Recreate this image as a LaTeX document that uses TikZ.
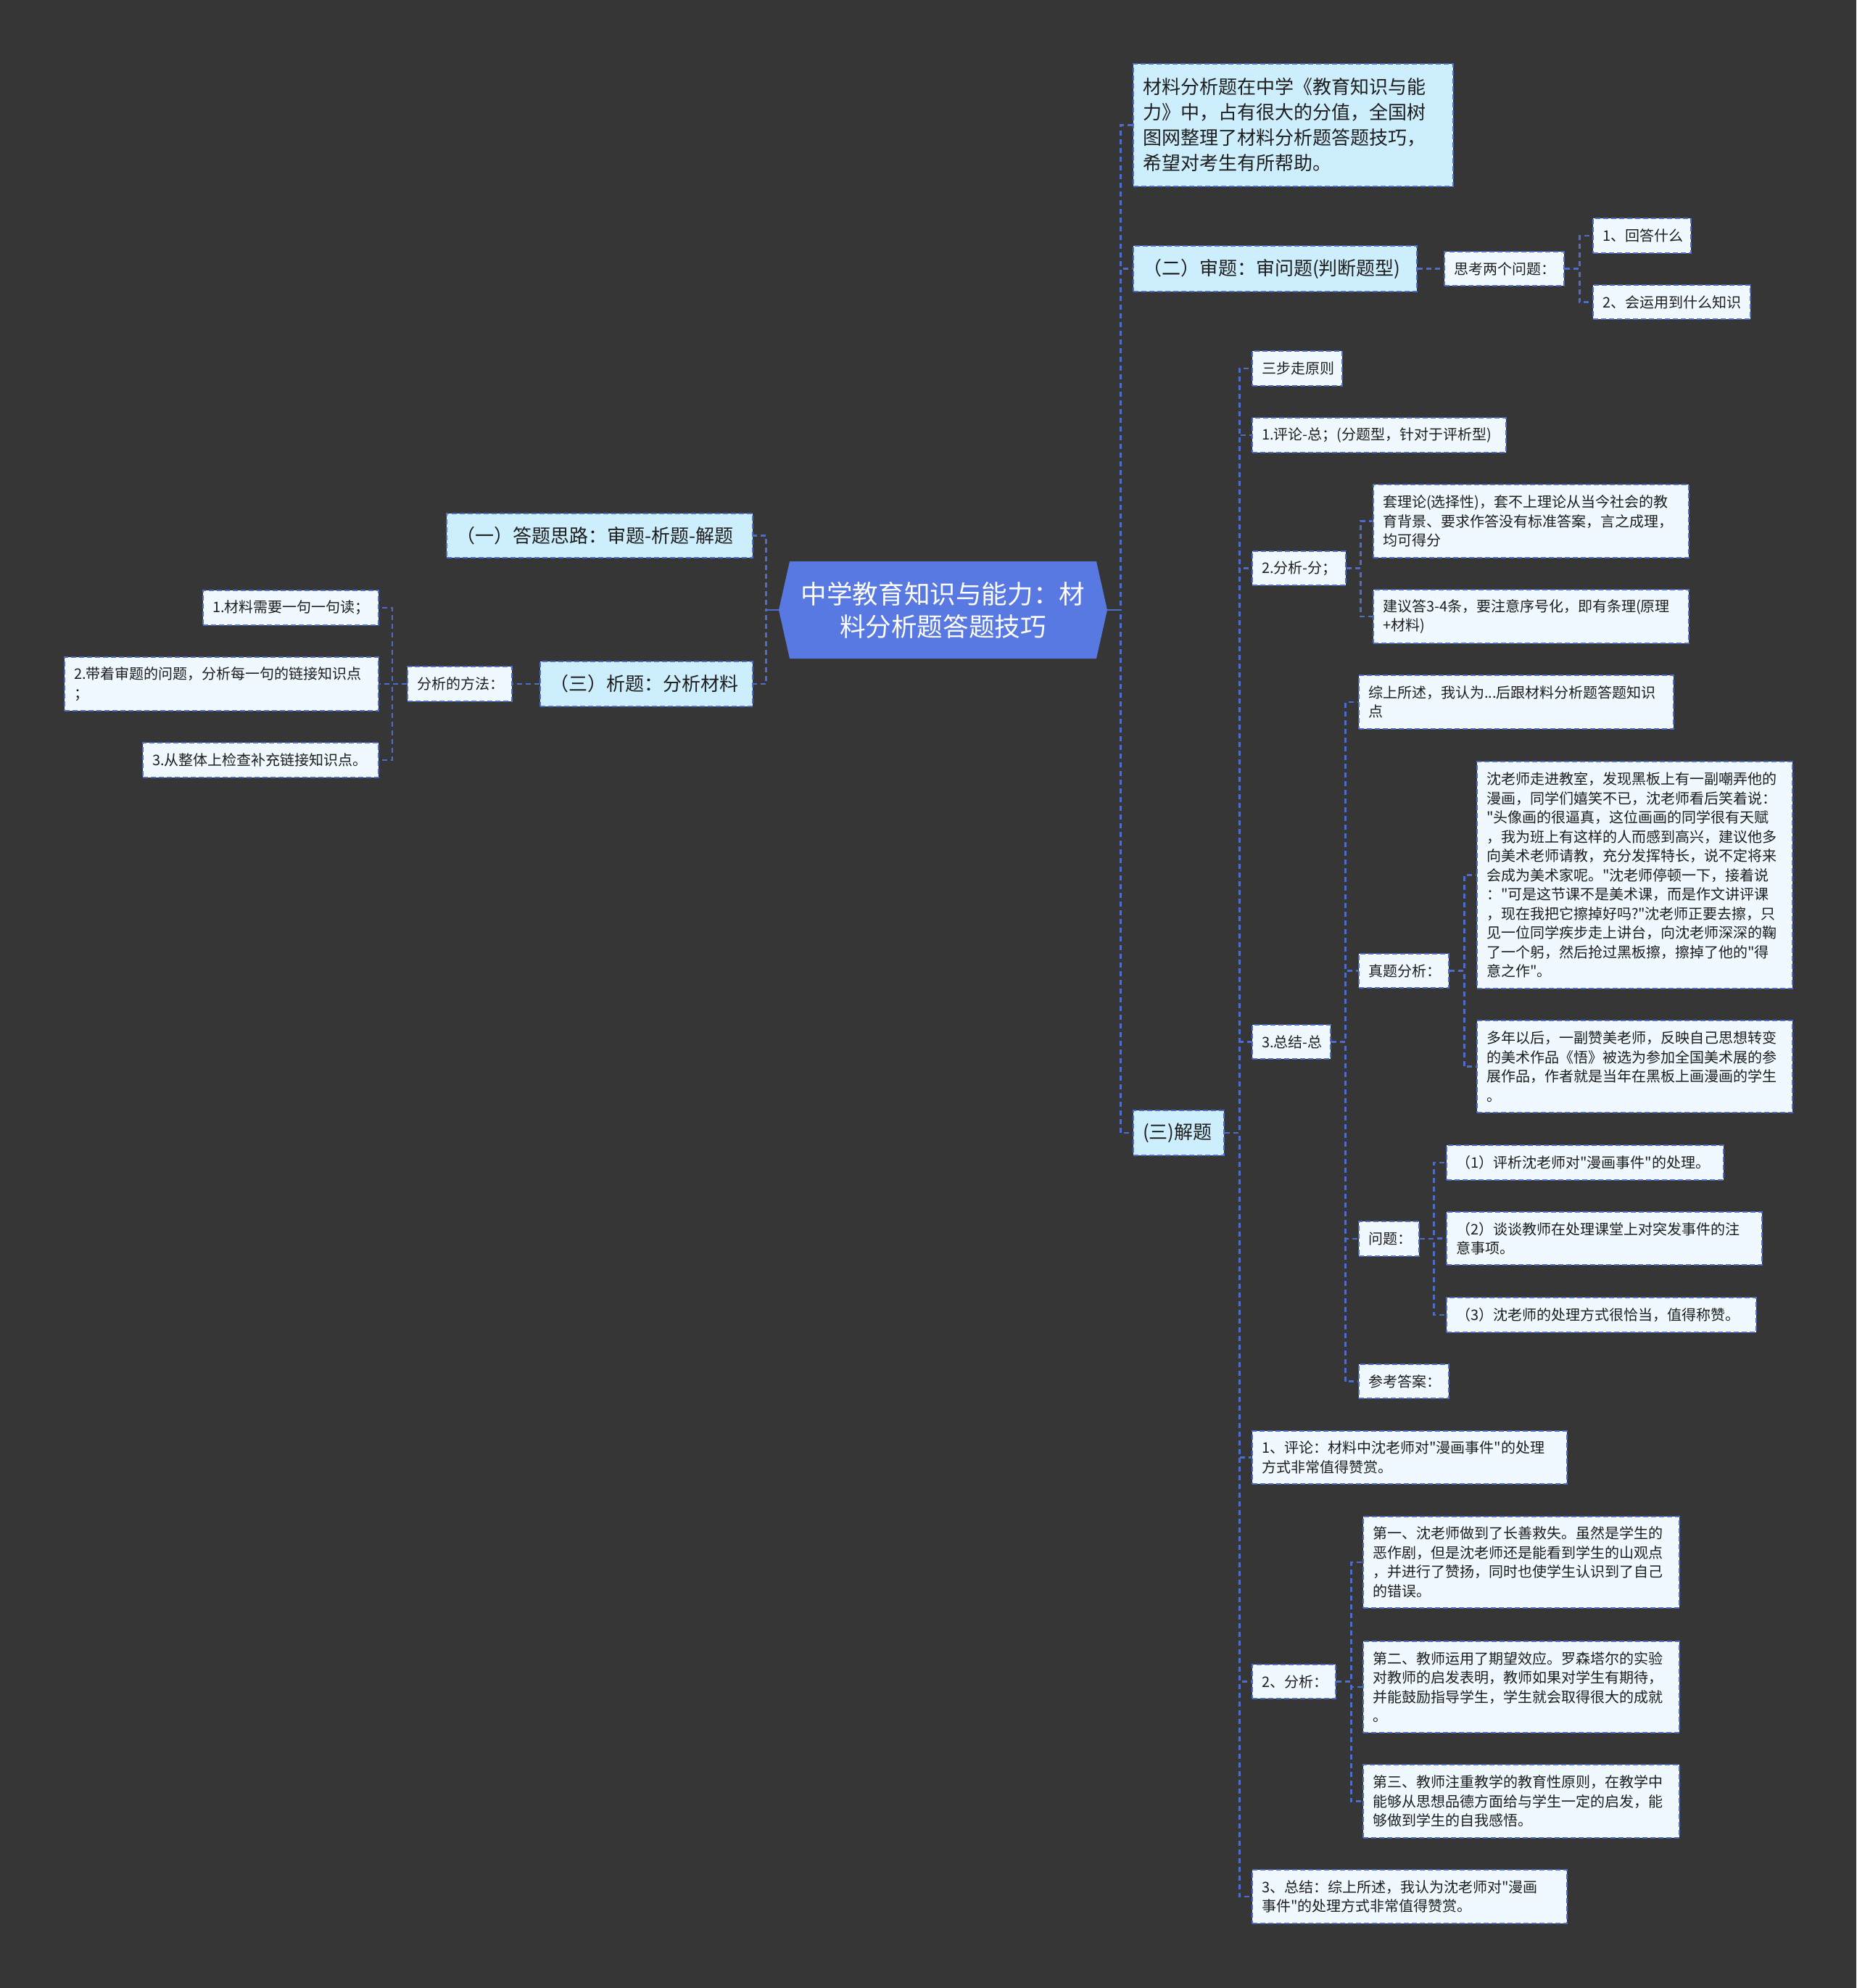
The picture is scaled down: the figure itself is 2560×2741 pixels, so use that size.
\documentclass[tikz,border=0pt]{standalone}
\usepackage{fontspec}
\newfontfamily\cjk{Noto Sans CJK SC}
\definecolor{bgc}{HTML}{363636}
\definecolor{rootc}{HTML}{5878E2}
\definecolor{lvc}{HTML}{CDEEFD}
\definecolor{leafc}{HTML}{EFF9FF}
\definecolor{linec}{HTML}{4E6CC9}
\definecolor{txtc}{HTML}{1E1E1E}
\tikzset{
  boxbase/.style={draw=linec, line width=1.2pt, dash pattern=on 3.5pt off 2pt,
    inner xsep=6.5pt, inner ysep=0pt, align=left, text=txtc, font=\cjk,
    execute at begin node={\exhyphenpenalty=10000 \hyphenpenalty=10000 }},
  lvbox/.style={boxbase, fill=lvc, font=\cjk\fontsize{13}{17.5}\selectfont},
  leafbox/.style={boxbase, fill=leafc, font=\cjk\fontsize{10}{13.25}\selectfont},
  conn/.style={draw=linec, line width=1.3pt, dash pattern=on 3.5pt off 2.5pt},
  stub/.style={draw=linec, line width=1.3pt},
}
\newcommand\bx[7]{%
  \pgfmathsetmacro\bxcx{(#2+#4)/2}%
  \pgfmathsetmacro\bxcy{(#3+#5)/2}%
  \pgfmathsetmacro\bxw{(#4-#2)*0.5}%
  \pgfmathsetmacro\bxh{(#5-#3)*0.5}%
  \pgfmathsetmacro\bxtw{\bxw-13}%
  \node[#6, minimum width=\bxw pt, minimum height=\bxh pt, text width=\bxtw pt] (#1) at (\bxcx,\bxcy) {#7};%
}
\begin{document}
\begin{tikzpicture}[x=0.5pt,y=-0.5pt]
\fill[bgc] (0,0) rectangle (2560,2741);
\useasboundingbox (0,0) rectangle (2560,2741);

% root
\fill[rootc] (1089,774) -- (1512,774) -- (1527,841) -- (1512,908) -- (1089,908) -- (1074,841) -- cycle;
\node[font=\cjk\fontsize{17.8}{22.5}\selectfont, text=white, align=center,
  minimum width=226.5pt, minimum height=67pt, inner sep=0pt] (root) at (1300.5,841)
  {中学教育知识与能力：材\\料分析题答题技巧};

% left branch
\bx{c1}{616}{708}{1038}{769}{lvbox}{（一）答题思路：审题-析题-解题}
\bx{c3}{745}{912}{1038}{974}{lvbox}{（三）析题：分析材料}
\bx{m}{562}{919}{706}{967}{leafbox}{分析的方法：}
\bx{l1}{280}{814}{522}{862}{leafbox}{1.材料需要一句一句读；}
\bx{l2}{89}{906}{522}{980}{leafbox}{2.带着审题的问题，分析每一句的链接知识点\\；}
\bx{l3}{197}{1024}{522}{1072}{leafbox}{3.从整体上检查补充链接知识点。}

% right top
\bx{intro}{1563}{88}{2004}{257}{lvbox}{材料分析题在中学《教育知识与能\\力》中，占有很大的分值，全国树\\图网整理了材料分析题答题技巧，\\希望对考生有所帮助。}
\bx{t2}{1563}{339}{1954}{402}{lvbox}{（二）审题：审问题(判断题型)}
\bx{q}{1992}{347}{2157}{394}{leafbox}{思考两个问题：}
\bx{q1}{2197}{301}{2332}{349}{leafbox}{1、回答什么}
\bx{q2}{2197}{393}{2414}{440}{leafbox}{2、会运用到什么知识}
\bx{t3}{1563}{1531}{1688}{1593}{lvbox}{(三)解题}

% (三)解题 children
\bx{s1}{1727}{484}{1851}{532}{leafbox}{三步走原则}
\bx{s2}{1727}{576}{2077}{624}{leafbox}{1.评论-总；(分题型，针对于评析型)}
\bx{s3}{1727}{760}{1856}{807}{leafbox}{\mbox{2.分析-分；}}
\bx{s3a}{1894}{668}{2329}{769}{leafbox}{套理论(选择性)，套不上理论从当今社会的教\\育背景、要求作答没有标准答案，言之成理，\\均可得分}
\bx{s3b}{1894}{813}{2329}{887}{leafbox}{建议答3-4条，要注意序号化，即有条理(原理\\+材料)}
\bx{s4}{1727}{1413}{1835}{1460}{leafbox}{\mbox{3.总结-总}}
\bx{s4a}{1874}{931}{2308}{1005}{leafbox}{综上所述，我认为...后跟材料分析题答题知识\\点}
\bx{zt}{1874}{1315}{1998}{1362}{leafbox}{真题分析：}
\bx{zta}{2037}{1050}{2472}{1363}{leafbox}{沈老师走进教室，发现黑板上有一副嘲弄他的\\漫画，同学们嬉笑不已，沈老师看后笑着说：\\"头像画的很逼真，这位画画的同学很有天赋\\，我为班上有这样的人而感到高兴，建议他多\\向美术老师请教，充分发挥特长，说不定将来\\会成为美术家呢。"沈老师停顿一下，接着说\\："可是这节课不是美术课，而是作文讲评课\\，现在我把它擦掉好吗?"沈老师正要去擦，只\\见一位同学疾步走上讲台，向沈老师深深的鞠\\了一个躬，然后抢过黑板擦，擦掉了他的"得\\意之作"。}
\bx{ztb}{2037}{1407}{2472}{1534}{leafbox}{多年以后，一副赞美老师，反映自己思想转变\\的美术作品《悟》被选为参加全国美术展的参\\展作品，作者就是当年在黑板上画漫画的学生\\。}
\bx{wt}{1874}{1684}{1957}{1732}{leafbox}{问题：}
\bx{w1}{1995}{1579}{2377}{1627}{leafbox}{（1）评析沈老师对"漫画事件"的处理。}
\bx{w2}{1995}{1671}{2430}{1744}{leafbox}{（2）谈谈教师在处理课堂上对突发事件的注\\意事项。}
\bx{w3}{1995}{1789}{2422}{1837}{leafbox}{（3）沈老师的处理方式很恰当，值得称赞。}
\bx{ck}{1874}{1881}{1998}{1928}{leafbox}{参考答案：}
\bx{s5}{1727}{1973}{2161}{2046}{leafbox}{1、评论：材料中沈老师对"漫画事件"的处理\\方式非常值得赞赏。}
\bx{s6}{1727}{2295}{1842}{2342}{leafbox}{2、分析：}
\bx{f1}{1880}{2091}{2316}{2217}{leafbox}{第一、沈老师做到了长善救失。虽然是学生的\\恶作剧，但是沈老师还是能看到学生的山观点\\，并进行了赞扬，同时也使学生认识到了自己\\的错误。}
\bx{f2}{1880}{2263}{2316}{2389}{leafbox}{第二、教师运用了期望效应。罗森塔尔的实验\\对教师的启发表明，教师如果对学生有期待，\\并能鼓励指导学生，学生就会取得很大的成就\\。}
\bx{f3}{1880}{2433}{2316}{2534}{leafbox}{第三、教师注重教学的教育性原则，在教学中\\能够从思想品德方面给与学生一定的启发，能\\够做到学生的自我感悟。}
\bx{s7}{1727}{2578}{2161}{2652}{leafbox}{3、总结：综上所述，我认为沈老师对"漫画\\事件"的处理方式非常值得赞赏。}

% connectors: left
\draw[conn] (root.west) -- ++(-17,0) |- (c1.east);
\draw[conn] (root.west) -- ++(-17,0) |- (c3.east);
\draw[stub] (root.west) -- ++(-17,0);
\draw[conn] (c3.west) -- (m.east);
\foreach \n in {l1,l2,l3} \draw[conn] (m.west) -- ++(-20,0) |- (\n.east);

% connectors: right
\foreach \n in {intro,t2,t3} \draw[conn] (root.east) -- ++(18,0) |- (\n.west);
\draw[stub] (root.east) -- ++(18,0);
\draw[conn] (t2.east) -- (q.west);
\foreach \n in {q1,q2} \draw[conn] (q.east) -- ++(20,0) |- (\n.west);
\foreach \n in {s1,s2,s3,s4,s5,s6,s7} \draw[conn] (t3.east) -- ++(20,0) |- (\n.west);
\foreach \n in {s3a,s3b} \draw[conn] (s3.east) -- ++(19,0) |- (\n.west);
\foreach \n in {s4a,zt,wt,ck} \draw[conn] (s4.east) -- ++(19,0) |- (\n.west);
\foreach \n in {zta,ztb} \draw[conn] (zt.east) -- ++(20,0) |- (\n.west);
\foreach \n in {w1,w2,w3} \draw[conn] (wt.east) -- ++(19,0) |- (\n.west);
\foreach \n in {f1,f2,f3} \draw[conn] (s6.east) -- ++(20,0) |- (\n.west);
\end{tikzpicture}
\end{document}
